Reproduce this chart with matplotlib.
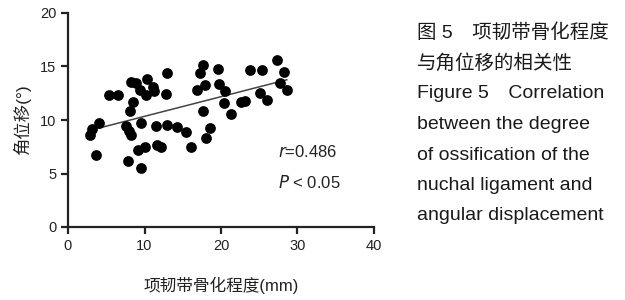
# -*- coding: utf-8 -*-
# scatter of nuchal ligament ossification vs angular displacement

from matplotlib import pyplot as plt
import numpy as np

plt.rcParams['font.family'] = ['Liberation Sans', 'Noto Sans CJK SC', 'DejaVu Sans']

ossification = [2.9, 3.2, 4.1, 3.7, 5.4, 6.6, 7.9, 7.6, 8.0, 8.3, 8.1, 8.5,
                8.2, 8.9, 9.4, 9.5, 9.5, 9.2, 10.0, 10.2, 10.3, 11.1, 11.2, 11.5,
                11.6, 12.2, 12.8, 12.9, 12.9, 14.2, 15.4, 16.1, 16.8, 17.3, 17.6,
                17.9, 17.6, 18.5, 18.1, 19.6, 19.8, 20.5, 20.4, 21.3, 22.6, 23.1,
                23.8, 25.3, 25.1, 26.0, 27.3, 28.2, 27.7, 28.6]
displacement = [8.6, 9.2, 9.75, 6.7, 12.3, 12.3, 6.15, 9.4, 9.0, 8.6, 10.85, 11.7,
                13.55, 13.45, 12.8, 9.7, 5.55, 7.2, 7.5, 12.3, 13.8, 13.1, 12.7, 9.45,
                7.65, 7.5, 12.4, 14.35, 9.5, 9.3, 8.9, 7.5, 12.8, 14.35, 15.15,
                13.3, 10.85, 9.25, 8.3, 14.75, 13.35, 12.75, 11.55, 10.6, 11.7, 11.75,
                14.65, 14.65, 12.55, 11.85, 15.65, 14.5, 13.45, 12.85]

x = np.array(ossification)
y = np.array(displacement)
k, b = np.polyfit(x, y, 1)
xs = np.array([x.min() + 1.0, x.max()])

fig = plt.figure(figsize=(6.25, 3.0), dpi=100)
ax = fig.add_axes([68 / 625, 1 - 227 / 300, 306 / 625, 214 / 300])

ax.scatter(x, y, s=60, color='black', zorder=3, linewidths=0)
ax.plot(xs, k * xs + b, color='#444444', lw=1.1, zorder=2)

ax.set_xlim(0, 40)
ax.set_ylim(0, 20)
ax.set_xticks([0, 10, 20, 30, 40])
ax.set_yticks([0, 5, 10, 15, 20])
ax.spines['top'].set_visible(False)
ax.spines['right'].set_visible(False)
for s in ['left', 'bottom']:
    ax.spines[s].set_linewidth(1.6)
    ax.spines[s].set_color('#222222')
ax.tick_params(width=1.6, length=5, labelsize=10.5, colors='#222222')

ax.set_xlabel('项韧带骨化程度(mm)', fontsize=12, labelpad=17, color='#222222')
ax.set_ylabel('角位移(°)', fontsize=12.5, labelpad=6, color='#222222')

ax.text(27.5, 7.0, r'$\it{r}$=0.486', fontsize=12, va='center', color='#222222')
ax.text(27.5, 4.2, r'$\it{P}$ < 0.05', fontsize=12, va='center', color='#222222')

caption = ['图 5\u3000项韧带骨化程度', '与角位移的相关性', 'Figure 5\u3000Correlation',
           'between the degree', 'of ossification of the', 'nuchal ligament and',
           'angular displacement']
for i, line in enumerate(caption):
    fig.text(417 / 625, 1 - (33 + i * 30.5) / 300, line, fontsize=14,
             va='center', ha='left', color='#1a1a1a')

fig.savefig('out.png', dpi=100)
